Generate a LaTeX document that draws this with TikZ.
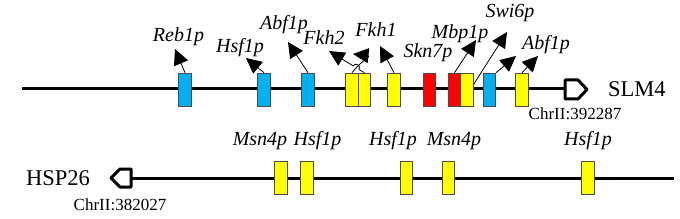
\documentclass[tikz,border=0pt]{standalone}
\usepackage{fontspec}
\setmainfont{Liberation Serif}
\usetikzlibrary{arrows.meta}
\definecolor{cblue}{HTML}{00B0F0}
\definecolor{cyel}{HTML}{FFFF00}
\definecolor{cred}{HTML}{FF0000}
\begin{document}
\begin{tikzpicture}[x=1pt,y=-1pt,
  box/.style={draw=black!70, line width=0.6pt, minimum width=12.5pt, minimum height=33pt, inner sep=0pt},
  bl/.style={box, fill=cblue},
  ye/.style={box, fill=cyel},
  rd/.style={box, fill=cred},
  arr/.style={line width=0.8pt, -{Triangle[length=15.5pt,width=15pt]}},
  tf/.style={font=\itshape\fontsize{20}{24}\selectfont, anchor=base, inner sep=0pt},
  gene/.style={font=\fontsize{22.5}{27}\selectfont, anchor=base west, inner sep=0pt},
  chr/.style={font=\fontsize{17}{20}\selectfont, anchor=base, inner sep=0pt},
  mainline/.style={line width=3pt},
  tss/.style={line width=3pt, fill=white, line join=round}]
\useasboundingbox (0,0) rectangle (680,219);

% ---------- SLM4 line ----------
\coordinate (l1s) at (22,89);
\coordinate (l1e) at (565,89);
\draw[mainline] (l1s) -- (l1e);
\draw[tss] (565,80) -- (578,80) -- (587,89.5) -- (578,99) -- (565,99) -- cycle;
\node[gene] (slm4) at (608,97) {SLM4};
\node[chr] (chr1) at (575,120) {ChrII:392287};

\node[bl] (b1) at (185,89.5) {};
\node[bl] (b2) at (264,89.5) {};
\node[bl] (b3) at (308,89.5) {};
\node[ye] (y1) at (352,89.5) {};
\node[ye] (y2) at (364.5,89.5) {};
\node[ye] (y3) at (394,89.5) {};
\node[rd] (r1) at (429.5,89.5) {};
\node[rd] (r2) at (454.5,89.5) {};
\node[ye] (y4) at (467,89.5) {};
\node[bl] (b4) at (489.5,89.5) {};
\node[ye] (y5) at (522,89.5) {};

% arrow tips
\coordinate (treb) at (175,49);
\coordinate (thsf) at (246,58);
\coordinate (tabf) at (288,42);
\coordinate (tfkh2) at (329,51);
\coordinate (tfkh1a) at (353,54);
\coordinate (tfkh1b) at (380,46);
\coordinate (tmbp) at (476,40);
\coordinate (tswi) at (507,32);
\coordinate (tabf2) at (516,56);
\coordinate (tabf3) at (538,56);
\coordinate (hopa) at (359,69.6);
\coordinate (hopb) at (353,65.8);

\draw[arr] (b1.north) -- (treb);
\draw[arr] (b2.north) -- (thsf);
\draw[arr] (b3.north) -- (tabf);
\draw[arr] (y1.north) .. controls (362,60) and (372,56) .. (tfkh1a);
\draw[arr] (y2.north) -- (hopa) .. controls (361.4,65.8) and (355.4,62) .. (hopb) -- (tfkh2);
\draw[arr] (y3.north) -- (tfkh1b);
\draw[arr] (r2.north) -- (tmbp);
\draw[arr] ([yshift=5pt]y4.east) -- (tswi);
\draw[arr] (b4.north east) -- (tabf2);
\draw[arr] (y5.north) -- (tabf3);

\node[tf] (lreb) at (178.5,42) {Reb1p};
\node[tf] (lhsf) at (240,53) {Hsf1p};
\node[tf] (labf) at (284,29.5) {Abf1p};
\node[tf] (lfkh2) at (324,45) {Fkh2};
\node[tf] (lfkh1) at (376,37) {Fkh1};
\node[tf] (lskn) at (428,58) {Skn7p};
\node[tf] (lmbp) at (460,39) {Mbp1p};
\node[tf] (lswi) at (510,18) {Swi6p};
\node[tf] (labf2) at (546,50) {Abf1p};

% ---------- HSP26 line ----------
\coordinate (l2s) at (131,178);
\coordinate (l2e) at (674,178);
\draw[mainline] (l2s) -- (l2e);
\draw[tss] (131,169) -- (120,169) -- (111,178) -- (120,187) -- (131,187) -- cycle;
\node[gene] (hsp) at (26,185) {HSP26};
\node[chr] (chr2) at (120,210) {ChrII:382027};

\node[ye] (c1) at (281,177.5) {};
\node[ye] (c2) at (307,177.5) {};
\node[ye] (c3) at (406.5,177.5) {};
\node[ye] (c4) at (448.5,177.5) {};
\node[ye] (c5) at (588,177.5) {};

\node[tf] (m1) at (260,146) {Msn4p};
\node[tf] (m2) at (317.5,146) {Hsf1p};
\node[tf] (m3) at (393,146) {Hsf1p};
\node[tf] (m4) at (454,146) {Msn4p};
\node[tf] (m5) at (588,146) {Hsf1p};
\end{tikzpicture}
\end{document}
